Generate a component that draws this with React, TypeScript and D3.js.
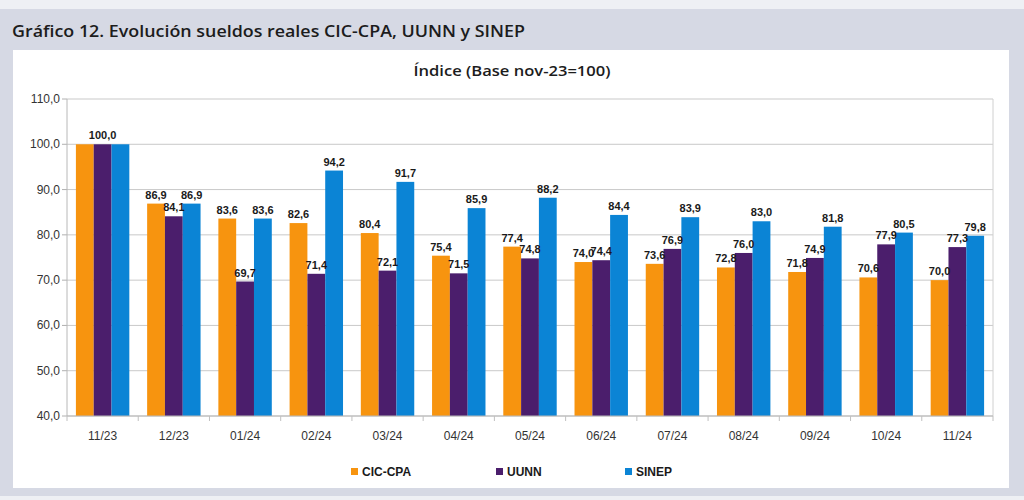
import * as d3 from 'd3'

const categories = ['11/23', '12/23', '01/24', '02/24', '03/24', '04/24', '05/24', '06/24', '07/24', '08/24', '09/24', '10/24', '11/24']
const seriesNames = ['CIC-CPA', 'UUNN', 'SINEP']
const cicCpa = [100.0, 86.9, 83.6, 82.6, 80.4, 75.4, 77.4, 74.0, 73.6, 72.8, 71.8, 70.6, 70.0]
const uunn = [100.0, 84.1, 69.7, 71.4, 72.1, 71.5, 74.8, 74.4, 76.9, 76.0, 74.9, 77.9, 77.3]
const sinep = [100.0, 86.9, 83.6, 94.2, 91.7, 85.9, 88.2, 84.4, 83.9, 83.0, 81.8, 80.5, 79.8]
const yTicks = [40, 50, 60, 70, 80, 90, 100, 110]
// in the first group only the middle label is printed
const hiddenLabels = ['0-0', '0-2']

const colors = ['#f7940f', '#4b1e6c', '#0b84d5']
const seriesValues = [cicCpa, uunn, sinep]

const W = 1024
const H = 500
const plot = { left: 67, right: 993, top: 99, bottom: 416 }

const fmt = (v: number) => v.toFixed(1).replace('.', ',')

export default function App() {
  const x = d3.scaleBand()
    .domain(categories)
    .range([plot.left, plot.right])
    .paddingInner(0.25)
    .paddingOuter(0.125)

  const xs = d3.scaleBand()
    .domain(seriesNames)
    .range([0, x.bandwidth()])

  const y = d3.scaleLinear()
    .domain([40, 110])
    .range([plot.bottom, plot.top])

  const step = x.step()
  const axisFont = 'Arial, "Liberation Sans", sans-serif'
  const titleFont = '"Open Sans", "Noto Sans", sans-serif'

  const legendX = [351, 496, 625]

  return (
    <svg width={W} height={H} style={{ position: 'absolute', left: 0, top: 0, display: 'block' }}>
      <rect x={0} y={0} width={W} height={H} fill="#d6d9e4" />
      <rect x={0} y={0} width={W} height={9} fill="#eef0f4" />
      <rect x={0} y={496} width={W} height={4} fill="#eef0f4" />
      <text x={12} y={37} fontFamily={titleFont} fontSize={17} fontWeight={600} fill="#1c1c1c" textLength={513} lengthAdjust="spacingAndGlyphs">
        Gráfico 12. Evolución sueldos reales CIC-CPA, UUNN y SINEP
      </text>
      <rect x={13} y={50} width={996} height={438} fill="#ffffff" />

      <text x={512} y={76} textAnchor="middle" fontFamily={titleFont} fontSize={15} fontWeight={600} fill="#1c1c1c" textLength={197} lengthAdjust="spacingAndGlyphs">
        Índice (Base nov-23=100)
      </text>

      {/* grid */}
      {yTicks.map(t => (
        <g key={t}>
          <line x1={plot.left} x2={plot.right} y1={y(t)} y2={y(t)} stroke="#c9c9c9" strokeWidth={1} />
          <line x1={plot.left - 5} x2={plot.left} y1={y(t)} y2={y(t)} stroke="#b0b0b0" strokeWidth={1} />
          <text x={plot.left - 7} y={y(t) + 4} textAnchor="end" fontFamily={axisFont} fontSize={12} fill="#333">
            {fmt(t)}
          </text>
        </g>
      ))}
      <line x1={plot.left} x2={plot.left} y1={plot.top} y2={plot.bottom} stroke="#b8b8b8" />
      <line x1={plot.right} x2={plot.right} y1={plot.top} y2={plot.bottom} stroke="#d0d0d0" />

      {/* bars */}
      {categories.map((c, i) => (
        <g key={c}>
          {seriesNames.map((s, j) => {
            const v = seriesValues[j][i]
            const bx = (x(c) || 0) + (xs(s) || 0)
            return (
              <rect key={s} x={bx} y={y(v)} width={xs.bandwidth()} height={plot.bottom - y(v)} fill={colors[j]} />
            )
          })}
        </g>
      ))}

      {/* x axis */}
      <line x1={plot.left} x2={plot.right} y1={plot.bottom} y2={plot.bottom} stroke="#b8b8b8" />
      {d3.range(categories.length + 1).map(i => (
        <line key={i} x1={plot.left + i * step} x2={plot.left + i * step} y1={plot.bottom} y2={plot.bottom + 5} stroke="#c0c0c0" />
      ))}
      {categories.map(c => (
        <text key={c} x={(x(c) || 0) + x.bandwidth() / 2} y={440} textAnchor="middle" fontFamily={axisFont} fontSize={12} fill="#333">
          {c}
        </text>
      ))}

      {/* labels */}
      {categories.map((c, i) => (
        <g key={c}>
          {seriesNames.map((s, j) => {
            if (hiddenLabels.includes(`${i}-${j}`)) return null
            const v = seriesValues[j][i]
            const cx = (x(c) || 0) + (xs(s) || 0) + xs.bandwidth() / 2
            return (
              <text key={s} x={cx} y={y(v) - 5} textAnchor="middle" fontFamily={axisFont} fontSize={11} fontWeight="bold" fill="#1a1a1a">
                {fmt(v)}
              </text>
            )
          })}
        </g>
      ))}

      {/* legend */}
      {seriesNames.map((s, j) => (
        <g key={s} transform={`translate(${legendX[j]}, 472)`}>
          <rect x={0} y={-4} width={7} height={7} fill={colors[j]} />
          <text x={11} y={4} fontFamily={axisFont} fontSize={12} fontWeight="bold" fill="#1a1a1a">{s}</text>
        </g>
      ))}
    </svg>
  )
}
